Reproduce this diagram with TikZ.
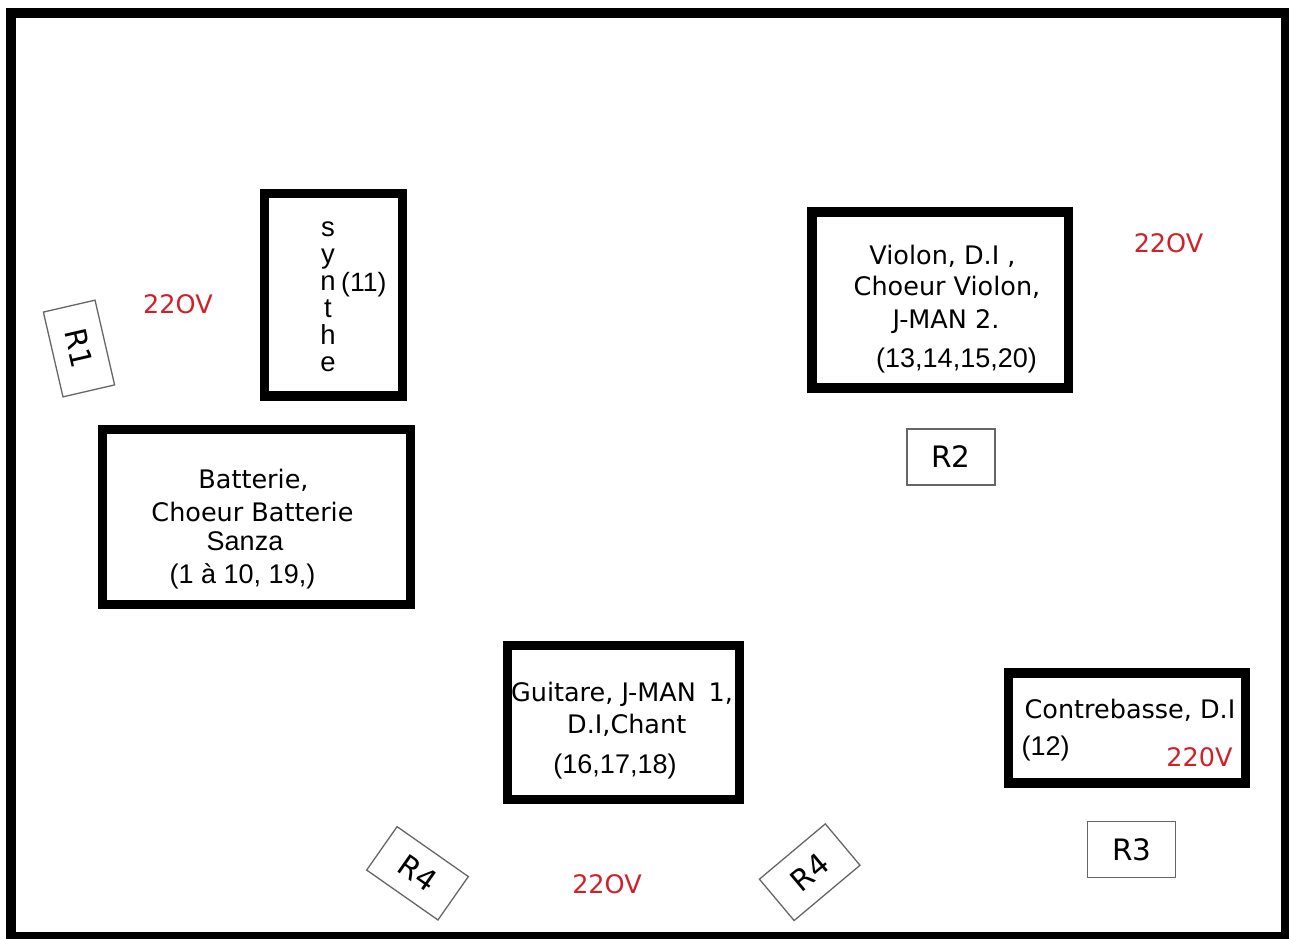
\documentclass[tikz,border=0pt]{standalone}
\usepackage{fontspec}
\setmainfont{DejaVu Sans}
\newfontfamily\arialf{Liberation Sans}
\definecolor{voltred}{RGB}{210,32,42}
\begin{document}
\begin{tikzpicture}[x=1pt,y=-1pt,
  stagebox/.style={draw=black,line width=9.5pt,inner sep=0pt},
  rbox/.style={draw=black!60,line width=1.3pt,inner sep=0pt,font=\fontsize{29.5}{30}\selectfont},
  dtxt/.style={inner sep=0pt,anchor=base,font=\fontsize{25.5}{28}\selectfont},
  atxt/.style={inner sep=0pt,anchor=base,font=\arialf\fontsize{27}{28}\selectfont},
  volt/.style={inner sep=0pt,anchor=base,text=voltred,font=\fontsize{25.5}{28}\selectfont}]
\useasboundingbox (0,0) rectangle (1289,938);
\fill[white] (0,0) rectangle (1289,938);
\draw[line width=10pt] (11,13) rectangle (1286,937);

% stage boxes
\node[stagebox,minimum width=138pt,minimum height=202.5pt] (synthebox) at (333.5,294.75) {};
\node[stagebox,minimum width=308pt,minimum height=175pt] (batbox) at (256.5,517) {};
\node[stagebox,minimum width=256.5pt,minimum height=176pt] (violbox) at (940.25,300) {};
\node[stagebox,minimum width=232.2pt,minimum height=154.4pt] (guitbox) at (623.6,722.5) {};
\node[stagebox,minimum width=236.6pt,minimum height=110.2pt] (cbbox) at (1127,727.9) {};

% synthe
\foreach \l [count=\i] in {s,y,n,t,h,e}
  \node[atxt,font=\arialf\fontsize{27.5}{28}\selectfont] (syn\i) at (328,209+27*\i) {\l};
\node[inner sep=0pt,anchor=base west,font=\arialf\fontsize{26.5}{27}\selectfont] (syn11) at (341,291) {(11)};

% batterie
\node[dtxt] (bat1) at (253.5,488) {Batterie,};
\node[dtxt] (bat2) at (252.5,521.5) {Choeur Batterie};
\node[atxt] (bat3) at (245,550) {Sanza};
\node[atxt] (bat4) at (242.5,583.5) {(1 à 10, 19,)};

% violon
\node[dtxt] (vio1) at (942.5,264) {Violon, D.I ,};
\node[dtxt] (vio2) at (947,295) {Choeur Violon,};
\node[dtxt] (vio3) at (946,328) {J-MAN 2.};
\node[atxt] (vio4) at (956.5,367) {(13,14,15,20)};

% guitare
\node[dtxt] (gui1) at (622,701.5) {Guitare, J-MAN\hspace{0.5em}1,};
\node[dtxt] (gui2) at (626.7,733.3) {D.I,Chant};
\node[atxt] (gui3) at (615,773.3) {(16,17,18)};

% contrebasse
\node[dtxt] (cb1) at (1130,718) {Contrebasse, D.I};
\node[inner sep=0pt,anchor=base west,font=\arialf\fontsize{27}{28}\selectfont] (cb2) at (1021.5,755) {(12)};
\node[volt] (cbv) at (1199.5,766.5) {220V};

% 220V labels
\node[volt] (v1) at (178,313.3) {22OV};
\node[volt] (v2) at (1168.5,252) {22OV};
\node[volt] (v3) at (607,893.3) {22OV};

% racks
\node[rbox,rotate=-77,minimum width=87pt,minimum height=53pt] (r1) at (79,348.5) {R1};
\node[rbox,minimum width=88pt,minimum height=56pt] (r2) at (951,457) {R2};
\node[rbox,minimum width=88pt,minimum height=56pt] (r3) at (1131.7,849.5) {R3};
\node[rbox,rotate=-35,minimum width=87pt,minimum height=53pt] (r4a) at (417.5,873.3) {R4};
\node[rbox,rotate=40,minimum width=86pt,minimum height=54pt] (r4b) at (809.7,872.2) {R4};
\end{tikzpicture}
\end{document}
